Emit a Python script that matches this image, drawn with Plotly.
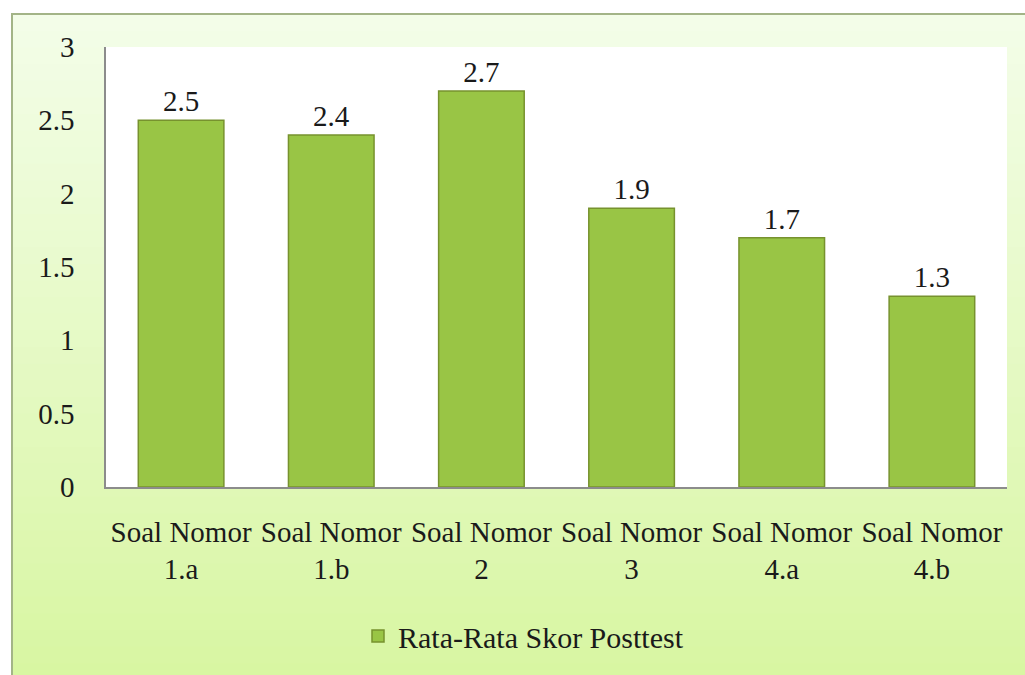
import plotly.graph_objects as go

categories = ["Soal Nomor<br>1.a", "Soal Nomor<br>1.b", "Soal Nomor<br>2",
              "Soal Nomor<br>3", "Soal Nomor<br>4.a", "Soal Nomor<br>4.b"]
scores = [2.5, 2.4, 2.7, 1.9, 1.7, 1.3]
score_labels = ["2.5", "2.4", "2.7", "1.9", "1.7", "1.3"]
series_name = "Rata-Rata Skor Posttest"
y_ticks = [0, 0.5, 1, 1.5, 2, 2.5, 3]
y_tick_text = ["0", "0.5", "1", "1.5", "2", "2.5", "3"]

FONT = "Liberation Serif"

fig = go.Figure()
fig.add_trace(go.Bar(
    x=categories, y=scores, name=series_name,
    text=score_labels, textposition="outside", cliponaxis=False,
    textfont=dict(family=FONT, size=29, color="#1a1a1a"),
    marker=dict(color="#99c545", line=dict(color="#77922e", width=1.5)),
    showlegend=True,
))

# background frame with vertical gradient (decorative)
W, H = 1025, 675
ml, mr, mt, mb = 106, 18, 47, 188
pw, ph = W - ml - mr, H - mt - mb

def px_to_paper_x(px):
    return (px - ml) / pw

def py_to_paper_y(py):
    return (H - mb - py) / ph

top_c = (0xf3, 0xfd, 0xe8)
bot_c = (0xd8, 0xf6, 0xa2)
n = 40
y0p, y1p = 14, 680
shapes = []
for i in range(n):
    t = i / (n - 1)
    c = tuple(int(round(a + (b - a) * t)) for a, b in zip(top_c, bot_c))
    ya = y0p + (y1p - y0p) * i / n
    yb = y0p + (y1p - y0p) * (i + 1) / n + 1
    shapes.append(dict(type="rect", xref="paper", yref="paper", layer="below",
                       x0=px_to_paper_x(12), x1=px_to_paper_x(1030),
                       y0=py_to_paper_y(yb), y1=py_to_paper_y(ya),
                       fillcolor="rgb(%d,%d,%d)" % c, line=dict(width=0)))
# frame border
shapes.append(dict(type="rect", xref="paper", yref="paper", layer="below",
                   x0=px_to_paper_x(12), x1=px_to_paper_x(1040),
                   y0=py_to_paper_y(700), y1=py_to_paper_y(14),
                   fillcolor="rgba(0,0,0,0)", line=dict(color="#a3b487", width=2)))
# white plot area
shapes.append(dict(type="rect", xref="paper", yref="paper", layer="below",
                   x0=0, x1=1, y0=0, y1=1, fillcolor="white", line=dict(width=0)))

fig.update_layout(
    width=W, height=H,
    margin=dict(l=ml, r=mr, t=mt, b=mb),
    paper_bgcolor="white", plot_bgcolor="rgba(0,0,0,0)",
    font=dict(family=FONT, size=29, color="#1a1a1a"),
    bargap=0.43,
    shapes=shapes,
    showlegend=True,
    legend=dict(orientation="h", x=px_to_paper_x(358), xanchor="left",
                y=py_to_paper_y(636), yanchor="middle",
                bgcolor="rgba(0,0,0,0)", font=dict(family=FONT, size=30),
                itemwidth=30),
    xaxis=dict(showline=True, linecolor="#8c8c8c", linewidth=1.5,
               ticks="", showgrid=False, tickfont=dict(family=FONT, size=29),
               ticklabelstandoff=18, fixedrange=True),
    yaxis=dict(range=[0, 3], tickvals=y_ticks, ticktext=y_tick_text,
               showline=True, linecolor="#8c8c8c", linewidth=1.5,
               showgrid=False, zeroline=False, ticks="",
               tickfont=dict(family=FONT, size=29), ticklabelstandoff=24,
               fixedrange=True),
)

fig.write_html("out.html")
